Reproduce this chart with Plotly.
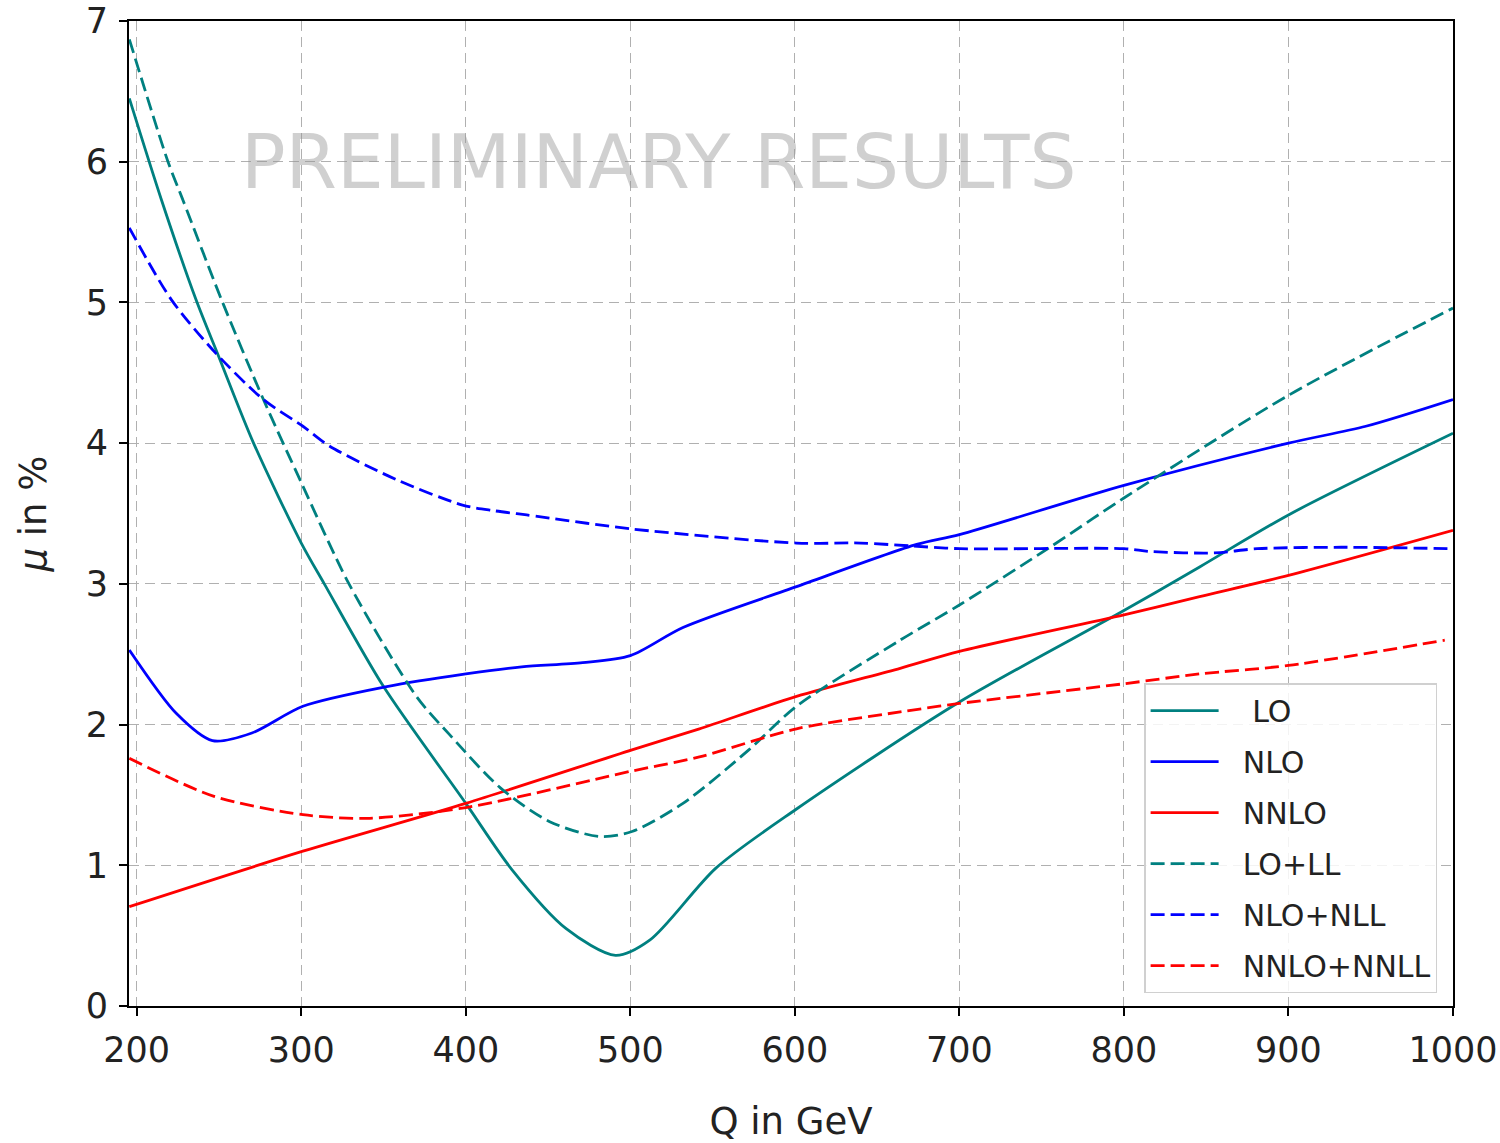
import plotly.graph_objects as go

# ---- data ----
lo_q = [195.5, 215, 236, 250, 271, 300, 314, 350, 400, 428, 461, 491, 512, 552, 601, 700, 800, 846, 900, 1000]
lo_y = [6.45, 5.73, 5.02, 4.61, 4.00, 3.29, 3.00, 2.27, 1.44, 0.97, 0.55, 0.36, 0.47, 0.98, 1.40, 2.16, 2.81, 3.12, 3.49, 4.07]

nlo_q = [195.5, 224, 246, 270, 301, 352, 400, 434, 471, 500, 532, 601, 674, 700, 800, 900, 947, 1000]
nlo_y = [2.53, 2.08, 1.886, 1.94, 2.13, 2.27, 2.36, 2.41, 2.44, 2.49, 2.69, 2.98, 3.28, 3.35, 3.70, 4.00, 4.12, 4.31]

nnlo_q = [195.5, 301, 400, 501, 542, 601, 664, 700, 800, 846, 900, 1000]
nnlo_y = [0.706, 1.10, 1.44, 1.82, 1.97, 2.20, 2.40, 2.52, 2.78, 2.91, 3.06, 3.38]

lold_q = [195.5, 219, 228, 251.5, 277, 300, 329, 370, 390, 421, 451, 481, 501, 532, 572, 601, 664, 700, 755, 800, 900, 1000]
lold_y = [6.87, 6.00, 5.73, 5.02, 4.31, 3.72, 3.00, 2.20, 1.93, 1.55, 1.31, 1.205, 1.24, 1.44, 1.82, 2.13, 2.60, 2.85, 3.26, 3.61, 4.34, 4.96]

nlonll_q = [195.5, 221, 248, 277, 301, 317, 358, 398, 417, 437, 501, 601, 640, 670, 700, 800, 816, 855, 881, 932, 1000]
nlonll_y = [5.53, 5.02, 4.64, 4.31, 4.12, 3.98, 3.74, 3.56, 3.52, 3.49, 3.39, 3.29, 3.29, 3.27, 3.25, 3.25, 3.23, 3.22, 3.25, 3.26, 3.25]

nnlonnll_q = [195.5, 247, 301, 340, 400, 501, 542, 601, 664, 700, 800, 846, 900, 995]
nnlonnll_y = [1.76, 1.49, 1.36, 1.334, 1.41, 1.67, 1.77, 1.97, 2.09, 2.15, 2.29, 2.36, 2.42, 2.60]

x_ticks = [200, 300, 400, 500, 600, 700, 800, 900, 1000]
y_ticks = [0, 1, 2, 3, 4, 5, 6, 7]

NB = "\u00a0"
series = [
    (NB * 3 + "LO", lo_q, lo_y, "#008080", "solid"),
    (NB * 2 + "NLO", nlo_q, nlo_y, "#0000ff", "solid"),
    (NB * 2 + "NNLO", nnlo_q, nnlo_y, "#ff0000", "solid"),
    (NB * 2 + "LO+LL", lold_q, lold_y, "#008080", "14px,6px"),
    (NB * 2 + "NLO+NLL", nlonll_q, nlonll_y, "#0000ff", "14px,6px"),
    (NB * 2 + "NNLO+NNLL", nnlonnll_q, nnlonnll_y, "#ff0000", "14px,6px"),
]

FONT = "DejaVu Sans"
fig = go.Figure()
for i, (name, q, y, c, d) in enumerate(series):
    fig.add_trace(go.Scatter(
        x=q, y=y, mode="lines", name=name, legendgroup=f"g{i}",
        line=dict(color=c, width=2.8, dash=d, shape="spline", smoothing=0.8),
    ))

fig.add_annotation(
    x=517, y=6.0, xref="x", yref="y", text="PRELIMINARY RESULTS",
    showarrow=False, font=dict(family=FONT, size=74, color="rgba(150,150,150,0.45)"),
    xanchor="center", yanchor="middle",
)

axis_common = dict(
    showline=True, linecolor="black", linewidth=2, mirror=True,
    ticks="outside", ticklen=8, tickwidth=1.5, tickcolor="black",
    showgrid=True, gridcolor="#b0b0b0", gridwidth=1.3, griddash="10px,6px",
    zeroline=False, tickfont=dict(family=FONT, size=35, color="#222"),
    automargin=False, ticklabelstandoff=4,
)

fig.update_xaxes(range=[195.3, 1000], tickvals=x_ticks, ticktext=[str(v) for v in x_ticks],
                 title=dict(text="Q in GeV", font=dict(family=FONT, size=37, color="#222"), standoff=45),
                 **axis_common)
fig.update_yaxes(range=[0, 7], tickvals=y_ticks, ticktext=[str(v) for v in y_ticks],
                 title=dict(text="<i>μ</i> in %", font=dict(family=FONT, size=37, color="#222"), standoff=28),
                 **axis_common)

fig.update_layout(
    width=1500, height=1143,
    margin=dict(l=129, r=47, t=21, b=137),
    paper_bgcolor="white", plot_bgcolor="white",
    font=dict(family=FONT, size=30, color="#222"),
    legend=dict(
        x=0.988, y=0.013, xanchor="right", yanchor="bottom",
        bgcolor="rgba(255,255,255,0.85)", bordercolor="#d0d0d0", borderwidth=1.5,
        font=dict(family=FONT, size=30, color="#222"),
        itemwidth=68, tracegroupgap=9, traceorder="grouped",
    ),
    showlegend=True,
)

fig.write_html("out.html")
